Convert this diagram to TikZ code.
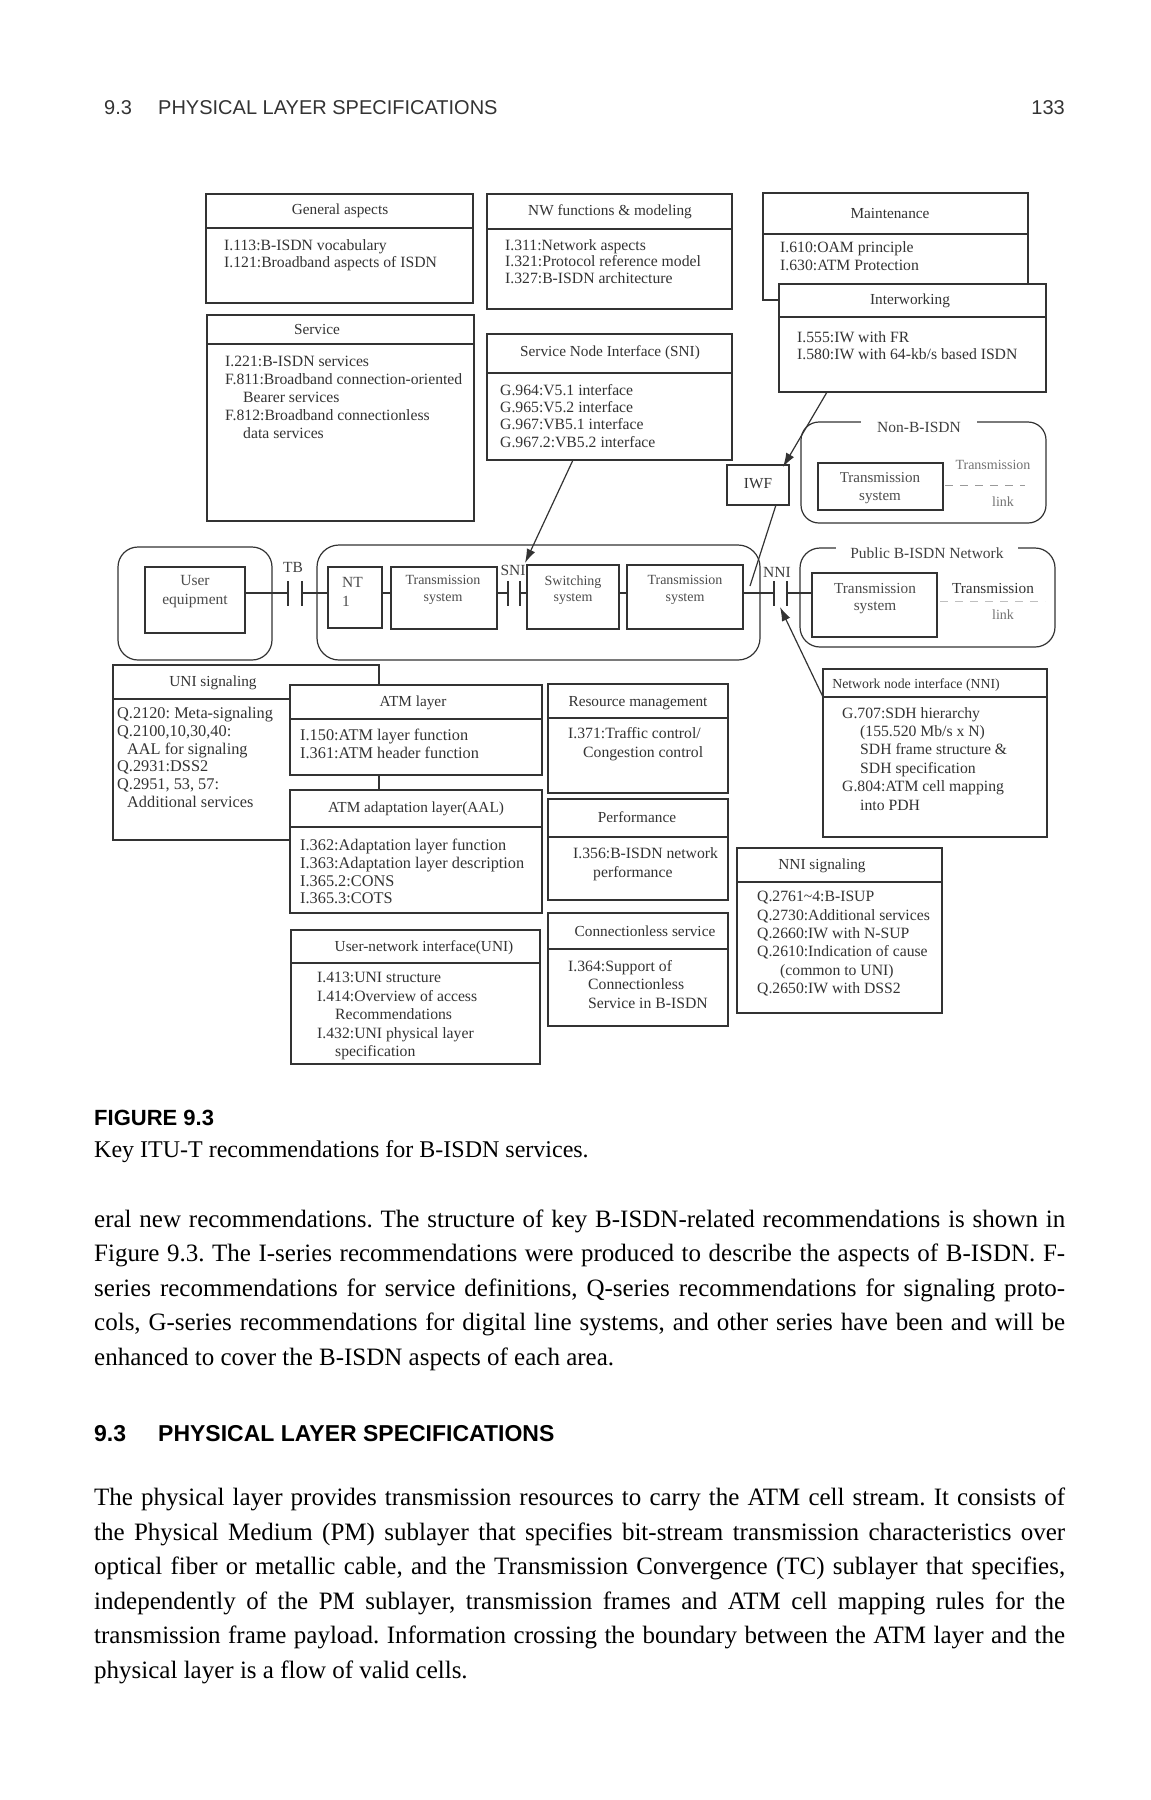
\documentclass[tikz,border=0pt]{standalone}
\usepackage{fontspec}
\setmainfont{Liberation Serif}
\newfontfamily\hdsans{Liberation Sans}
\usetikzlibrary{arrows.meta,calc}
\newcommand\recbox[6]{%
  \node[boxn, minimum width={#4-#2}, minimum height={#5-#3}] (#1) at (#2,#3) {};
  \draw[ln] (#2,#6) -- (#4,#6);}
\newcommand\rndbox[6]{%
  \node[boxn, rounded corners=#6, minimum width={#4-#2}, minimum height={#5-#3}] (#1) at (#2,#3) {};}
\newcommand\plainbox[5]{%
  \node[boxn, minimum width={#4-#2}, minimum height={#5-#3}] (#1) at (#2,#3) {};}
\newcommand\bodyline[2]{\makebox[971pt][#1]{#2}}
\frenchspacing
\begin{document}
\begin{tikzpicture}[x=1pt,y=-1pt,
  ln/.style={line width=1.2pt, draw=black!80},
  boxn/.style={draw=black!80, line width=1.2pt, fill=white, inner sep=0pt, outer sep=0pt, anchor=north west},
  dtxt/.style={inner sep=0pt, text=black!80, font=\fontsize{15.3}{18}\selectfont},
  btxt/.style={inner sep=0pt, text=black!80, align=left, anchor=north west, font=\fontsize{15.7}{#1}\selectfont},
  btxt/.default=18,
  bbtxt/.style={inner sep=0pt, text=black!80, align=left, anchor=north west, font=\fontsize{16.3}{#1}\selectfont},
  bbtxt/.default=18,
  stxt/.style={inner sep=0pt, text=black!70, align=center, font=\fontsize{14}{#1}\selectfont},
  stxt/.default=17,
  ltxt/.style={inner sep=0pt, text=black!75, font=\fontsize{15.5}{18}\selectfont},
  gtxt/.style={inner sep=0pt, text=black!55, font=\fontsize{14}{18}\selectfont},
  arr/.style={ln, -{Latex[length=14pt,width=9pt]}},
  ptxt/.style={inner sep=0pt, anchor=base west, font=\fontsize{25}{34.5}\selectfont},
  captxt/.style={inner sep=0pt, anchor=base west, font=\fontsize{24}{30}\selectfont},
  hdtxt/.style={inner sep=0pt, anchor=base west, text=black!80, font=\hdsans\fontsize{20}{24}\selectfont},
  figtxt/.style={inner sep=0pt, anchor=base west, font=\hdsans\bfseries\fontsize{22}{26}\selectfont},
  sectxt/.style={inner sep=0pt, anchor=base west, font=\hdsans\bfseries\fontsize{23}{26}\selectfont},
]
\useasboundingbox[fill=white] (0,0) rectangle (1151,1800);

% ---------- page header ----------
\node[hdtxt] (hnum) at (104,114) {9.3};
\node[hdtxt] (htitle) at (158,114) {PHYSICAL LAYER SPECIFICATIONS};
\node[hdtxt, anchor=base east] (hpage) at (1065,114) {133};

% ---------- upper recommendation boxes ----------
\recbox{gen}{206}{194}{473}{303}{228}
\node[dtxt] (gen-t) at (340,211) {General aspects};
\node[btxt=17] (gen-b) at (224,239) {I.113:B-ISDN vocabulary\\I.121:Broadband aspects of ISDN};

\recbox{svc}{207}{315}{474}{521}{344}
\node[dtxt] (svc-t) at (317,330) {Service};
\node[btxt=18] (svc-b) at (225,356) {I.221:B-ISDN services\\F.811:Broadband connection-oriented\\\hspace*{18pt}Bearer services\\F.812:Broadband connectionless\\\hspace*{18pt}data services};

\recbox{nw}{487}{194}{732}{309}{229}
\node[dtxt] (nw-t) at (610,212) {NW functions \& modeling};
\node[btxt=16.5] (nw-b) at (505,239) {I.311:Network aspects\\I.321:Protocol reference model\\I.327:B-ISDN architecture};

\recbox{sni}{487}{334}{732}{460}{373}
\node[dtxt] (sni-t) at (610,353) {Service Node Interface (SNI)};
\node[btxt=17.3] (sni-b) at (500,384) {G.964:V5.1 interface\\G.965:V5.2 interface\\G.967:VB5.1 interface\\G.967.2:VB5.2 interface};

\recbox{mnt}{763}{193}{1028}{300}{234}
\node[dtxt] (mnt-t) at (890,214) {Maintenance};
\node[btxt=18] (mnt-b) at (780,241) {I.610:OAM principle\\I.630:ATM Protection};

\recbox{iw}{779}{284}{1046}{392}{317}
\node[dtxt] (iw-t) at (910,301) {Interworking};
\node[btxt=17] (iw-b) at (797,331) {I.555:IW with FR\\I.580:IW with 64-kb/s based ISDN};

% ---------- non-B-ISDN ----------
\rndbox{nonb}{801}{422}{1046}{523}{18pt}
\node[ltxt, fill=white, inner xsep=16pt, inner ysep=2pt] (nonb-l) at (919,427) {Non-B-ISDN};
\plainbox{tr4}{818}{463}{943}{510}
\node[stxt=18, font=\fontsize{15}{18}\selectfont] (tr4-t) at (880,488) {Transmission\\system};
\node[gtxt] (nonb-tx) at (993,465) {Transmission};
\node[gtxt] (nonb-lk) at (1003,502) {link};
\coordinate (nonbD1) at (945,485);
\coordinate (nonbD2) at (1025,485);
\draw[line width=0.8pt, black!40, dash pattern=on 8pt off 7pt] (nonbD1) -- (nonbD2);

% ---------- IWF ----------
\plainbox{iwf}{727}{465}{789}{505}
\node[dtxt] (iwf-t) at (758,484) {IWF};

% ---------- reference configuration row ----------
\rndbox{ue}{118}{547}{272}{660}{20pt}
\plainbox{uein}{145}{567}{245}{633}
\node[stxt=19, font=\fontsize{15.5}{19}\selectfont] (uein-t) at (195,592) {User\\equipment};

\rndbox{net}{317}{545}{760}{660}{22pt}
\plainbox{nt}{328}{567}{382}{628}
\node[stxt=19, align=left, anchor=west, font=\fontsize{15.5}{19}\selectfont] (nt-t) at (342,592) {NT\\1};
\plainbox{tr1}{391}{567}{497}{629}
\node[stxt=16.5] (tr1-t) at (443,590) {Transmission\\system};
\plainbox{sw}{527}{565}{619}{629}
\node[stxt=16.5] (sw-t) at (573,590) {Switching\\system};
\plainbox{tr2}{627}{565}{743}{629}
\node[stxt=16.5] (tr2-t) at (685,590) {Transmission\\system};

\rndbox{pub}{800}{548}{1055}{647}{20pt}
\node[ltxt, fill=white, inner xsep=14pt, inner ysep=2pt] (pub-l) at (927,553) {Public B-ISDN Network};
\plainbox{tr3}{812}{573}{937}{637}
\node[stxt=17, font=\fontsize{15.3}{17}\selectfont] (tr3-t) at (875,599) {Transmission\\system};
\node[dtxt, font=\fontsize{15.3}{18}\selectfont] (pub-tx) at (993,588) {Transmission};
\node[gtxt] (pub-lk) at (1003,615) {link};
\coordinate (pubD1) at (940,601);
\coordinate (pubD2) at (1045,601);
\draw[line width=0.8pt, black!25, dash pattern=on 8pt off 7pt] (pubD1) -- (pubD2);

% interface points
\coordinate (rowy) at (0,593);
\coordinate (tb1) at (288,593);
\coordinate (tb2) at (302,593);
\coordinate (sn1) at (508,593);
\coordinate (sn2) at (520,593);
\coordinate (nn1) at (774,593);
\coordinate (nn2) at (787,593);
\foreach \b in {tb1,tb2,sn1,sn2,nn1,nn2}
  \draw[ln] ([yshift=12pt]\b) -- ([yshift=-13pt]\b);
\node[ltxt] (tb-l) at (293,567) {TB};
\node[ltxt] (sni-l) at (513,570) {SNI};
\node[ltxt] (nni-l) at (777,572) {NNI};

\draw[ln] (uein.east |- rowy) -- (tb1);
\draw[ln] (tb2) -- (nt.west |- rowy);
\draw[ln] (nt.east |- rowy) -- (tr1.west |- rowy);
\draw[ln] (tr1.east |- rowy) -- (sn1);
\draw[ln] (sn2) -- (sw.west |- rowy);
\draw[ln] (sw.east |- rowy) -- (tr2.west |- rowy);
\draw[ln] (tr2.east |- rowy) -- (nn1);
\draw[ln] (nn2) -- (tr3.west |- rowy);

% ---------- lower recommendation boxes ----------
\recbox{unis}{113}{665}{379}{840}{699}
\node[dtxt] (unis-t) at (213,683) {UNI signaling};
\node[bbtxt=17.8] (unis-b) at (117,707) {Q.2120: Meta-signaling\\Q.2100,10,30,40:\\\hspace*{10pt}AAL for signaling\\Q.2931:DSS2\\Q.2951, 53, 57:\\\hspace*{10pt}Additional services};

\recbox{atm}{290}{685}{542}{775}{719}
\node[dtxt] (atm-t) at (413,703) {ATM layer};
\node[bbtxt=18] (atm-b) at (300,729) {I.150:ATM layer function\\I.361:ATM header function};

\recbox{aal}{290}{790}{542}{913}{827}
\node[dtxt] (aal-t) at (416,809) {ATM adaptation layer(AAL)};
\node[bbtxt=17.7] (aal-b) at (300,839) {I.362:Adaptation layer function\\I.363:Adaptation layer description\\I.365.2:CONS\\I.365.3:COTS};

\recbox{uni}{291}{930}{540}{1064}{963}
\node[dtxt] (uni-t) at (424,948) {User-network interface(UNI)};
\node[btxt=18.5] (uni-b) at (317,972) {I.413:UNI structure\\I.414:Overview of access\\\hspace*{18pt}Recommendations\\I.432:UNI physical layer\\\hspace*{18pt}specification};

\recbox{rm}{548}{684}{728}{793}{718}
\node[dtxt] (rm-t) at (638,703) {Resource management};
\node[btxt=19] (rm-b) at (568,727) {I.371:Traffic control/\\\hspace*{15pt}Congestion control};

\recbox{perf}{548}{799}{728}{900}{837}
\node[dtxt] (perf-t) at (637,817) {Performance};
\node[btxt=19] (perf-b) at (573,847) {I.356:B-ISDN network\\\hspace*{20pt}performance};

\recbox{cl}{548}{913}{728}{1026}{949}
\node[dtxt] (cl-t) at (645,931) {Connectionless service};
\node[btxt=18.5] (cl-b) at (568,960) {I.364:Support of\\\hspace*{20pt}Connectionless\\\hspace*{20pt}Service in B-ISDN};

\recbox{nni}{823}{669}{1047}{837}{697}
\node[dtxt, font=\fontsize{13.8}{16}\selectfont] (nni-t) at (916,685) {Network node interface (NNI)};
\node[btxt=18.4] (nni-b) at (842,707) {G.707:SDH hierarchy\\\hspace*{18pt}(155.520 Mb/s x N)\\\hspace*{18pt}SDH frame structure \&\\\hspace*{18pt}SDH specification\\G.804:ATM cell mapping\\\hspace*{18pt}into PDH};

\recbox{nnis}{737}{848}{942}{1013}{882}
\node[dtxt] (nnis-t) at (822,866) {NNI signaling};
\node[btxt=18.4] (nnis-b) at (757,891) {Q.2761\textasciitilde4:B-ISUP\\Q.2730:Additional services\\Q.2660:IW with N-SUP\\Q.2610:Indication of cause\\\hspace*{23pt}(common to UNI)\\Q.2650:IW with DSS2};

% ---------- connectors ----------
\coordinate (sniTip) at (525,563);
\draw[arr] ($(sni.south west)!0.351!(sni.south east)$) -- (sniTip);
\draw[arr] ($(iw.south west)!0.18!(iw.south east)$) -- ([xshift=-6pt,yshift=-2pt]iwf.north east);
\coordinate (iwfEnd) at (750,586);
\draw[ln] ($(iwf.south west)!0.79!(iwf.south east)$) -- (iwfEnd);
\coordinate (nniTip) at (780,607);
\draw[arr] ([yshift=-28pt]nni.north west) -- (nniTip);

% ---------- caption and body text ----------
\node[figtxt] (figlab) at (94,1125) {FIGURE 9.3};
\node[captxt] (figcap) at (94,1157) {Key ITU-T recommendations for B-ISDN services.};

\node[ptxt] (p1a) at (94,1227) {\bodyline{s}{eral new recommendations. The structure of key B-ISDN-related recommendations is shown in}};
\node[ptxt] (p1b) at (94,1261.5) {\bodyline{s}{Figure 9.3. The I-series recommendations were produced to describe the aspects of B-ISDN. F-}};
\node[ptxt] (p1c) at (94,1296) {\bodyline{s}{series recommendations for service definitions, Q-series recommendations for signaling proto-}};
\node[ptxt] (p1d) at (94,1330.5) {\bodyline{s}{cols, G-series recommendations for digital line systems, and other series have been and will be}};
\node[ptxt] (p1e) at (94,1365) {enhanced to cover the B-ISDN aspects of each area.};

\node[sectxt] (secnum) at (94,1441) {9.3};
\node[sectxt] (sectitle) at (158,1441) {PHYSICAL LAYER SPECIFICATIONS};

\node[ptxt] (p2a) at (94,1505.5) {\bodyline{s}{The physical layer provides transmission resources to carry the ATM cell stream. It consists of}};
\node[ptxt] (p2b) at (94,1540) {\bodyline{s}{the Physical Medium (PM) sublayer that specifies bit-stream transmission characteristics over}};
\node[ptxt] (p2c) at (94,1574.5) {\bodyline{s}{optical fiber or metallic cable, and the Transmission Convergence (TC) sublayer that specifies,}};
\node[ptxt] (p2d) at (94,1609) {\bodyline{s}{independently of the PM sublayer, transmission frames and ATM cell mapping rules for the}};
\node[ptxt] (p2e) at (94,1643.5) {\bodyline{s}{transmission frame payload. Information crossing the boundary between the ATM layer and the}};
\node[ptxt] (p2f) at (94,1678) {physical layer is a flow of valid cells.};
\end{tikzpicture}
\end{document}
